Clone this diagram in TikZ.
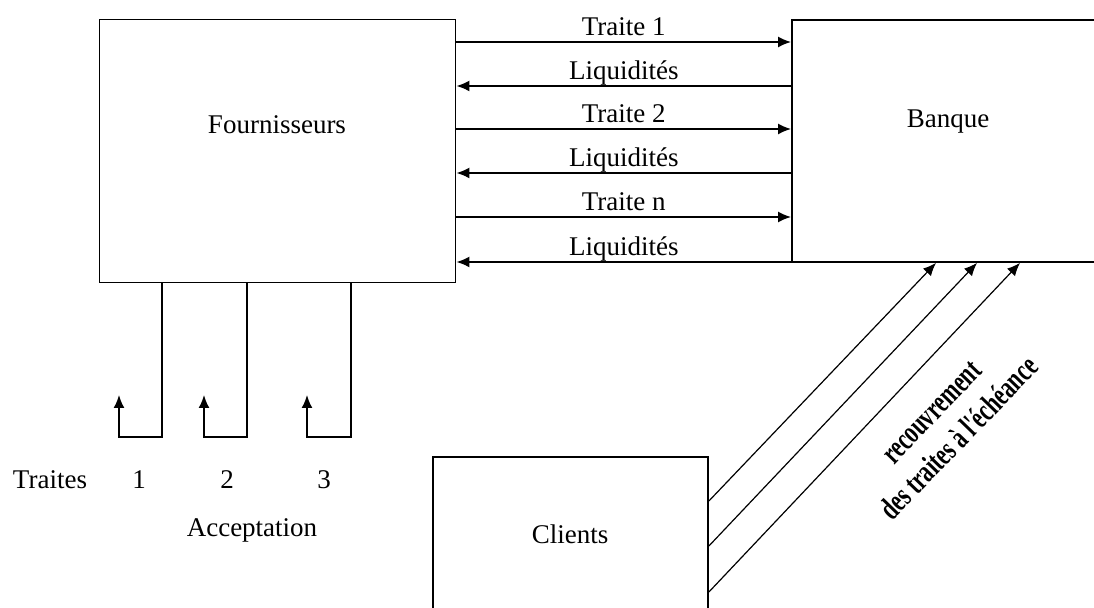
\documentclass[tikz,border=0pt]{standalone}
\usepackage{fontspec}
\setmainfont{Liberation Serif}
\newfontfamily\narrowfont[FakeStretch=0.68]{Liberation Serif}
\usetikzlibrary{arrows.meta,calc}

\begin{document}
\begin{tikzpicture}[x=0.5pt, y=-0.5pt, font=\fontsize{13.5}{16}\selectfont]
    \tikzstyle{block} = [rectangle, draw, line width=0.9pt, inner sep=0pt]
    \tikzstyle{arrow} = [line width=0.9pt, -{Latex[length=6.5pt,width=5.5pt]}]
    \tikzstyle{slant} = [line width=0.6pt, -{Latex[length=6.5pt,width=5.5pt]}]
    \tikzstyle{tag} = [anchor=base, yshift=3pt, inner sep=0pt]
    \tikzstyle{turned} = [rotate=46, align=center, font=\narrowfont\bfseries\fontsize{16}{19}\selectfont]

    \useasboundingbox (0,0) rectangle (1094,608);
    \clip (0,0) rectangle (1094,608);

    \node (fourn) [block, minimum width=178pt, minimum height=131.5pt] at (277.5,151) {};
    \node (banque) [block, minimum width=204pt, minimum height=121pt] at (996,141) {};
    \node (clients) [block, minimum width=137.5pt, minimum height=131.5pt] at (570.5,588.5) {};

    \node (fournText) at (277,125) {Fournisseurs};
    \node (banqueText) at (948,122) {Banque};
    \node (clientsText) at (570,534) {Clients};

    % effets remis a l'escompte
    \foreach \y/\txt in {42/Traite 1, 129/Traite 2, 217/Traite n}
        \draw [arrow] (fourn.east |- 0,\y) -- node[tag] {\txt} (banque.west |- 0,\y);
    \foreach \y in {86, 173, 262}
        \draw [arrow] (banque.west |- 0,\y) -- node[tag] {Liquidités} (fourn.east |- 0,\y);

    % acceptation des traites
    \foreach \a/\b in {162/119, 247/204, 351/307}
        \draw [arrow] (fourn.south -| \a,0) |- (\b,437) -- (\b,395);

    \node (traites) at (50,480) {Traites};
    \node (t1) at (139,480) {1};
    \node (t2) at (227,480) {2};
    \node (t3) at (324,480) {3};
    \node (accept) at (252,530) {Acceptation};

    % recouvrement
    \foreach \y/\x in {501/936, 546/977, 592/1020}
        \draw [slant] (clients.east |- 0,\y) -- (banque.south -| \x,0);

    \node (recouv) [turned] at (946,426) {recouvrement\\des traites à l'échéance};
\end{tikzpicture}
\end{document}
